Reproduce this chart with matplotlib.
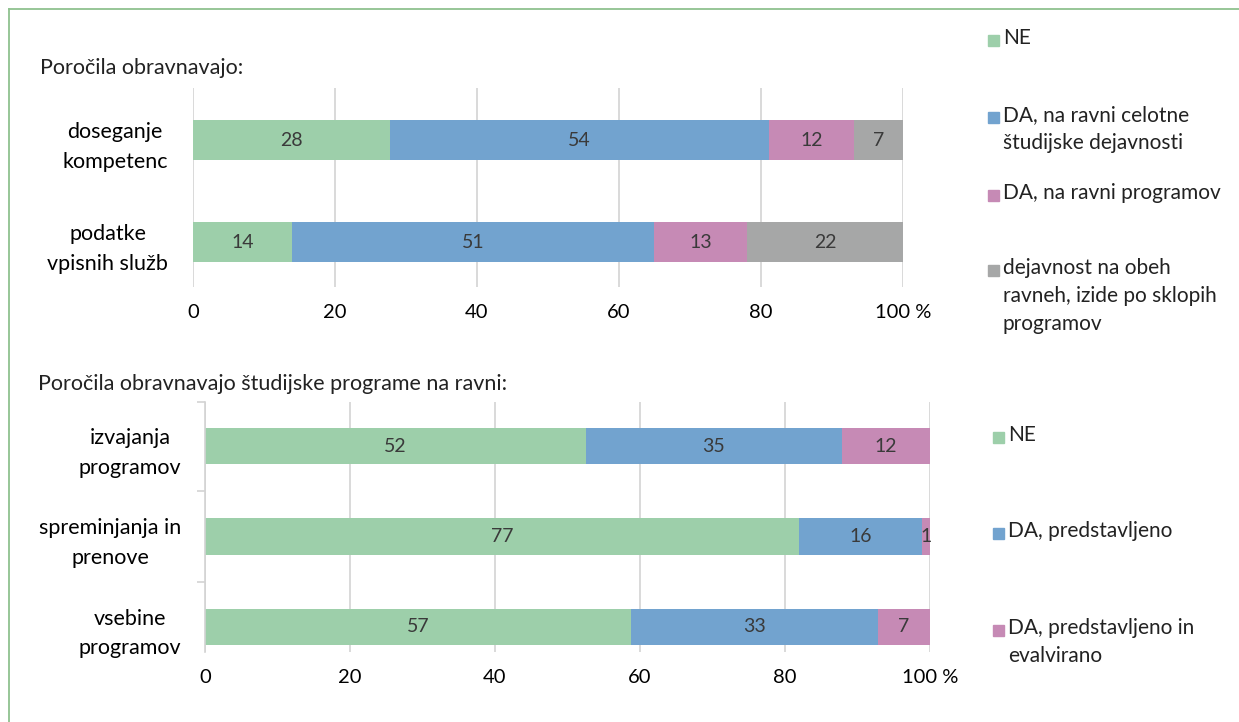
import matplotlib
matplotlib.use("Agg")
import matplotlib.pyplot as plt
import numpy as np
from matplotlib.lines import Line2D
from matplotlib.patches import Rectangle

plt.rcParams['font.family'] = ['Lato', 'DejaVu Sans']

# top chart data
cats1 = ["doseganje\nkompetenc", "podatke\nvpisnih služb"]
ne1 = [28, 14]
da_celotne = [54, 51]
da_prog = [12, 13]
obeh = [7, 22]
legend1 = ["NE", "DA, na ravni celotne\nštudijske dejavnosti", "DA, na ravni programov",
           "dejavnost na obeh\nravneh, izide po sklopih\nprogramov"]

# bottom chart data
cats2 = ["izvajanja\nprogramov", "spreminjanja in\nprenove", "vsebine\nprogramov"]
ne2 = [52, 77, 57]
da_pred = [35, 16, 33]
da_eval = [12, 1, 7]
legend2 = ["NE", "DA, predstavljeno", "DA, predstavljeno in\nevalvirano"]

xticks = [0, 20, 40, 60, 80, 100]
xticklabels = ["0", "20", "40", "60", "80", "100 %"]

GREEN = "#9dcfaa"
BLUE = "#72a3cf"
PINK = "#c68ab5"
GRAY = "#a6a7a7"
GRID = "#d3d3d3"
TXT = "#3a3a3a"

fig = plt.figure(figsize=(12.39, 7.22), dpi=100)


def stacked(ax, cats, series, colors, height):
    data = np.array(series, dtype=float)
    pct = data / data.sum(axis=0) * 100
    y = np.arange(len(cats))
    left = np.zeros(len(cats))
    for vals, p, c in zip(data, pct, colors):
        ax.barh(y, p, left=left, height=height, color=c, zorder=2)
        for yi, v, l, w in zip(y, vals, left, p):
            ax.text(l + w / 2, yi, "%d" % v, ha="center", va="center",
                    fontsize=14, color=TXT, zorder=3)
        left = left + p
    ax.set_xlim(0, 100)
    ax.set_xticks(xticks)
    ax.set_xticklabels(xticklabels, fontsize=14.5)
    ax.tick_params(axis="x", length=0, pad=12)
    ax.grid(axis="x", color=GRID, lw=1.2, zorder=0)
    ax.set_yticks(y)
    ax.set_yticklabels(cats, fontsize=15.5, ha="right", multialignment="center",
                       linespacing=1.6)
    for s in ["top", "right", "bottom"]:
        ax.spines[s].set_visible(False)


# top chart
ax1 = fig.add_axes([193 / 1239, 1 - 287 / 722, 710 / 1239, 199 / 722])
stacked(ax1, cats1, [ne1, da_celotne, da_prog, obeh], [GREEN, BLUE, PINK, GRAY], 0.39)
ax1.set_ylim(1.44, -0.51)
ax1.spines["left"].set_visible(False)
ax1.tick_params(axis="y", length=0, pad=18)

# bottom chart
ax2 = fig.add_axes([205 / 1239, 1 - 652 / 722, 725 / 1239, 250 / 722])
stacked(ax2, cats2, [ne2, da_pred, da_eval], [GREEN, BLUE, PINK], 0.4)
ax2.set_ylim(2.28, -0.49)
ax2.spines["left"].set_color(GRID)
ax2.spines["left"].set_linewidth(1.2)
ax2.tick_params(axis="y", length=0, pad=17)
ax2.set_yticks([-0.49, 0.5, 1.5], minor=True)
ax2.tick_params(axis="y", which="minor", length=6, color=GRID, width=1.2)

# titles
fig.text(40 / 1239, 1 - 68 / 722, "Poročila obravnavajo:", fontsize=15.5,
         ha="left", va="center", color="#222222")
fig.text(38 / 1239, 1 - 384 / 722, "Poročila obravnavajo študijske programe na ravni:",
         fontsize=15.5, ha="left", va="center", color="#222222")

# legends
def legend(entries, colors, xs, ys):
    for lab, c, yc in zip(entries, colors, ys):
        fig.patches.append(Rectangle((xs / 1239, 1 - (yc + 6) / 722), 11 / 1239, 11 / 722,
                                     transform=fig.transFigure, color=c))
        fig.text((xs + 15) / 1239, 1 - (yc - 12) / 722, lab, fontsize=15,
                 ha="left", va="top", color="#222222", linespacing=1.5)


legend(legend1, [GREEN, BLUE, PINK, GRAY], 988, [40, 117, 195, 270])
legend(legend2, [GREEN, BLUE, PINK], 993, [437, 533, 630])

# frame
fig.add_artist(Line2D([9 / 1239, 1], [1 - 9 / 722, 1 - 9 / 722], transform=fig.transFigure,
                      color="#8fc28f", lw=1.3))
fig.add_artist(Line2D([9 / 1239, 9 / 1239], [0, 1 - 9 / 722], transform=fig.transFigure,
                      color="#8fc28f", lw=1.3))

fig.savefig("out.png", dpi=100)
